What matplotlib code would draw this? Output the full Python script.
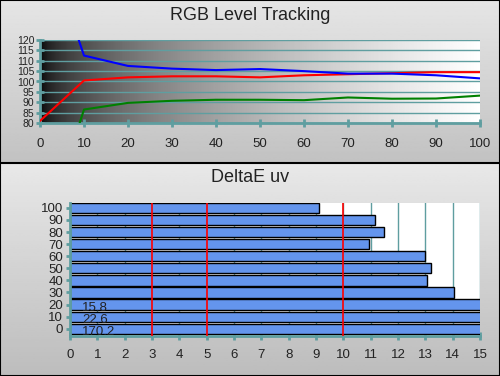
import matplotlib
matplotlib.use("Agg")
import matplotlib.pyplot as plt
import numpy as np

plt.rcParams["font.family"] = ["Liberation Sans", "DejaVu Sans"]

# RGB level tracking data
levels = [0, 10, 20, 30, 40, 50, 60, 70, 80, 90, 100]
red = [81, 100.5, 102, 102.5, 102.5, 102, 103, 103.5, 104, 104.5, 104.5]
green = [21, 86.5, 89.7, 90.7, 91.2, 91.2, 91, 92.3, 91.7, 91.8, 93.2]
blue = [175, 112.5, 107.5, 106.2, 105.5, 106, 105, 103.8, 103.8, 103, 101.5]

# DeltaE uv data
de_labels = ["0", "10", "20", "30", "40", "50", "60", "70", "80", "90", "100"]
de_values = [170.2, 22.6, 15.8, 14.05, 13.05, 13.2, 13.0, 10.95, 11.5, 11.15, 9.1]
ref_lines = [3, 5, 10]

teal = "#5f9ea0"

fig = plt.figure(figsize=(5, 3.76), dpi=100)

# panel backgrounds
bg = fig.add_axes([0, 0, 1, 1], zorder=-10)
split = 1 - 163 / 376
grad_top = np.linspace(0.90, 0.76, 100).reshape(-1, 1)
grad_bot = np.linspace(0.91, 0.74, 100).reshape(-1, 1)
bg.imshow(grad_top, cmap="gray", vmin=0, vmax=1, aspect="auto",
          extent=[0, 1, split, 1])
bg.imshow(grad_bot, cmap="gray", vmin=0, vmax=1, aspect="auto",
          extent=[0, 1, 0, split])
bg.set_xlim(0, 1)
bg.set_ylim(0, 1)
bg.axhline(split, color="black", lw=1.5)
for s in bg.spines.values():
    s.set_color("black")
    s.set_linewidth(1.5)
bg.set_xticks([])
bg.set_yticks([])

fig.text(0.5, 1 - 15 / 376, "RGB Level Tracking", ha="center", va="center",
         fontsize=13, color="#222222")
fig.text(0.5, 1 - 177 / 376, "DeltaE uv", ha="center", va="center",
         fontsize=13, color="#222222")

# top chart
ax1 = fig.add_axes([0.08, 1 - 123 / 376, 0.88, 83 / 376])
shade = np.sqrt(np.linspace(0, 1, 256)).reshape(1, -1)
ax1.imshow(shade, cmap="gray", vmin=0, vmax=1, aspect="auto",
           extent=[0, 100, 80, 120], zorder=0)
ax1.plot(levels, red, color="red", lw=1.5, zorder=3)
ax1.plot(levels, green, color="green", lw=1.5, zorder=3)
ax1.plot(levels, blue, color="blue", lw=1.5, zorder=3)
ax1.set_xlim(0, 100)
ax1.set_ylim(80, 120)
ax1.set_xticks(range(0, 101, 10))
ax1.set_yticks(range(80, 121, 5))
ax1.grid(axis="y", color=teal, lw=1, zorder=1)
ax1.set_axisbelow(False)
for side in ["top", "right"]:
    ax1.spines[side].set_visible(False)
for side in ["left", "bottom"]:
    ax1.spines[side].set_color(teal)
    ax1.spines[side].set_linewidth(2)
ax1.tick_params(axis="x", direction="inout", length=6, width=2, color=teal,
                labelsize=9.5, pad=8, labelcolor="#222222")
ax1.tick_params(axis="y", direction="inout", length=6, width=2, color=teal,
                labelsize=7.5, pad=1, labelcolor="#222222")

# bottom chart
ax2 = fig.add_axes([0.14, 1 - 336 / 376, 0.82, 133 / 376])
pos = np.arange(len(de_labels))
ax2.barh(pos, de_values, height=0.85, color="cornflowerblue",
         edgecolor="black", lw=1, zorder=2)
for x in ref_lines:
    ax2.axvline(x, color="red", lw=1.2, zorder=3)
for p, v in zip(pos, de_values):
    if v > 15:
        ax2.text(0.45, p - 0.3, f"{v}", fontsize=9.5, va="center",
                 color="#222222", zorder=4)
ax2.set_xlim(0, 15)
ax2.set_ylim(-0.6, 10.4)
ax2.set_xticks(range(0, 16))
ax2.set_yticks(pos)
ax2.set_yticklabels(de_labels)
ax2.set_facecolor("white")
ax2.grid(axis="x", color=teal, lw=1, zorder=1)
ax2.set_axisbelow(True)
for side in ["top", "right"]:
    ax2.spines[side].set_visible(False)
for side in ["left", "bottom"]:
    ax2.spines[side].set_color(teal)
    ax2.spines[side].set_linewidth(2)
ax2.tick_params(axis="x", direction="inout", length=6, width=2, color=teal,
                labelsize=9.5, pad=6, labelcolor="#222222")
ax2.tick_params(axis="y", direction="inout", length=6, width=2, color=teal,
                labelsize=9.5, pad=2, labelcolor="#222222")

fig.savefig("out.png", dpi=100)
